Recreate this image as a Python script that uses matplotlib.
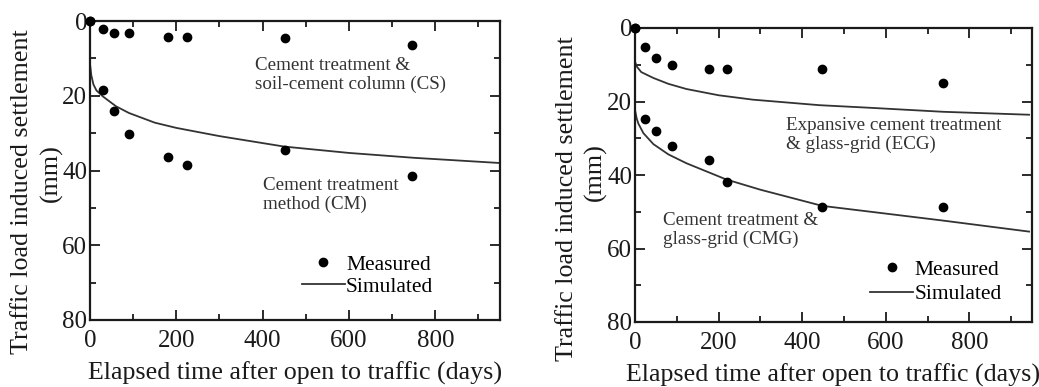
import matplotlib
matplotlib.use("Agg")
import matplotlib.pyplot as plt
from matplotlib.ticker import MultipleLocator

plt.rcParams['font.family'] = ['Liberation Serif', 'DejaVu Serif']

# ---- Left panel: CS and CM ----
days_left = [0, 30, 56, 90, 181, 224, 452, 745]
meas_cs = [0, 2.1, 3.2, 3.2, 4.3, 4.3, 4.5, 6.4]
meas_cm = [0, 18.5, 24.2, 30.3, 36.5, 38.5, 34.5, 41.5]

sim_cm_days = [0, 3, 8, 15, 30, 60, 90, 150, 200, 300, 450, 600, 750, 950]
sim_cm = [11.5, 14.5, 17.0, 18.6, 20.2, 22.8, 24.6, 27.2, 28.6, 30.8, 33.6, 35.3, 36.6, 38.0]

# ---- Right panel: ECG and CMG ----
days_right = [0, 24, 50, 88, 177, 220, 448, 737]
meas_ecg = [0, 5.1, 8.1, 10.1, 11.2, 11.2, 11.2, 14.9]
meas_cmg = [0, 24.8, 28.0, 32.0, 35.9, 41.8, 48.8, 48.8]

sim_ecg_days = [0, 5, 15, 44, 80, 123, 200, 282, 441, 561, 737, 943]
sim_ecg = [9.2, 10.6, 12.0, 13.6, 15.2, 16.6, 18.3, 19.5, 21.0, 21.7, 22.8, 23.6]

sim_cmg_days = [0, 4, 8, 20, 44, 80, 123, 218, 300, 448, 600, 737, 943]
sim_cmg = [22.3, 24.6, 26.0, 28.6, 31.6, 34.4, 36.8, 41.2, 44.0, 48.4, 50.5, 52.4, 55.4]

xticks = [0, 200, 400, 600, 800]
yticks = [0, 20, 40, 60, 80]
xlabel = "Elapsed time after open to traffic (days)"
ylabel = "Traffic load induced settlement"
yunit = "(mm)"

W, H = 1039, 387
fig = plt.figure(figsize=(W / 100, H / 100), dpi=100)

ink = '#1a1a1a'
line_col = '#333333'


def make_axes(rect, lab_xy, unit_xy):
    ax = fig.add_axes(rect)
    ax.set_xlim(0, 950)
    ax.set_ylim(80, 0)
    ax.set_xticks(xticks)
    ax.set_yticks(yticks)
    ax.xaxis.set_minor_locator(MultipleLocator(100))
    ax.yaxis.set_minor_locator(MultipleLocator(10))
    ax.tick_params(which='both', direction='in', top=True, right=True,
                   labelsize=18, colors=ink, width=1.3)
    ax.tick_params(which='major', length=7)
    ax.tick_params(which='minor', length=4)
    ax.tick_params(axis='x', pad=7)
    ax.tick_params(axis='y', pad=2)
    for s in ax.spines.values():
        s.set_linewidth(1.6)
        s.set_color(ink)
    ax.set_xlabel(xlabel, fontsize=18.7, color=ink, labelpad=7)
    ax.set_ylabel(ylabel, fontsize=18.7, color=ink)
    ax.yaxis.set_label_coords(*lab_xy)
    ax.yaxis.label.set_verticalalignment('center')
    ax.text(unit_xy[0], unit_xy[1], yunit, transform=ax.transAxes, rotation=90,
            fontsize=18.7, color=ink, ha='center', va='center')
    return ax


# Left panel
ax1 = make_axes([90 / W, 1 - 320 / H, 410 / W, 299 / H],
                (-0.165, 0.428), (-0.095, 0.49))
ax1.plot(days_left, meas_cs, 'o', color='black', ms=6, clip_on=False, zorder=5)
ax1.plot(days_left, meas_cm, 'o', color='black', ms=6, clip_on=False, zorder=5,
         label='Measured')
ax1.plot(sim_cm_days, sim_cm, '-', color=line_col, lw=1.3, label='Simulated')
ax1.text(383, 14.5, "Cement treatment &\nsoil-cement column (CS)", fontsize=13.7,
         color='#333333', ha='left', va='center', linespacing=1.1)
ax1.text(400, 46.5, "Cement treatment\nmethod (CM)", fontsize=13.7,
         color='#333333', ha='left', va='center', linespacing=1.1)
ax1.legend(loc='upper left', bbox_to_anchor=(0.517, 0.219), frameon=False,
           fontsize=15.5, handlelength=2.0, handletextpad=0.05, labelspacing=0.1,
           borderpad=0, borderaxespad=0)

# Right panel
ax2 = make_axes([635 / W, 1 - 322 / H, 397 / W, 294 / H],
                (-0.172, 0.418), (-0.10, 0.51))
ax2.plot(days_right, meas_ecg, 'o', color='black', ms=6, clip_on=False, zorder=5)
ax2.plot(days_right, meas_cmg, 'o', color='black', ms=6, clip_on=False, zorder=5,
         label='Measured')
ax2.plot(sim_ecg_days, sim_ecg, '-', color=line_col, lw=1.3)
ax2.plot(sim_cmg_days, sim_cmg, '-', color=line_col, lw=1.3, label='Simulated')
ax2.text(362, 29.1, "Expansive cement treatment\n& glass-grid (ECG)", fontsize=13.7,
         color='#333333', ha='left', va='center', linespacing=1.1)
ax2.text(68, 55, "Cement treatment &\nglass-grid (CMG)", fontsize=13.7,
         color='#333333', ha='left', va='center', linespacing=1.1)
ax2.legend(loc='upper left', bbox_to_anchor=(0.592, 0.212), frameon=False,
           fontsize=15.5, handlelength=2.0, handletextpad=0.05, labelspacing=0.2,
           borderpad=0, borderaxespad=0)

fig.savefig('out.png', dpi=100)
